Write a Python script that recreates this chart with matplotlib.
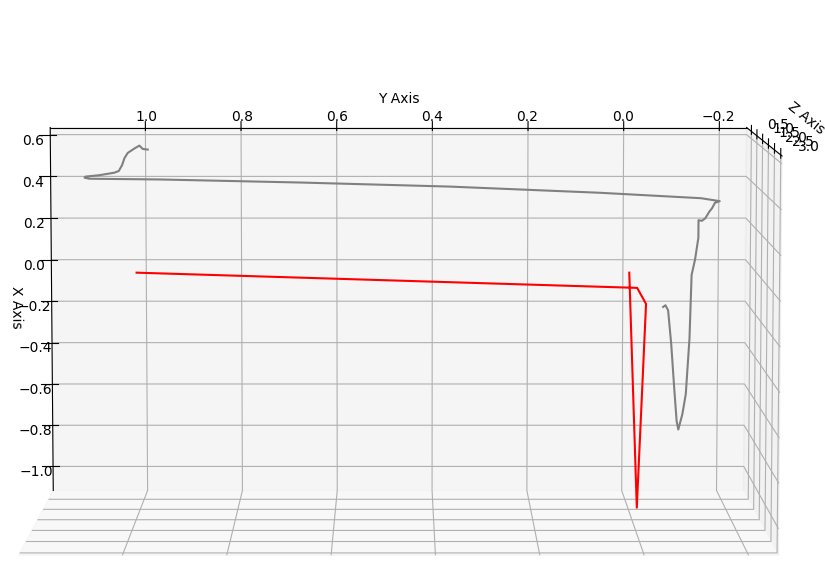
import matplotlib
matplotlib.use("Agg")
import matplotlib.pyplot as plt
import numpy as np

# Gray trajectory (x, y, z)
gray_x = [0.535, 0.538, 0.554, 0.540, 0.519, 0.494, 0.462, 0.433, 0.425, 0.413,
          0.406, 0.401, 0.396, 0.3925, 0.378, 0.3585, 0.329, 0.303, 0.289, 0.281,
          0.255, 0.239, 0.2066, 0.195, 0.198, 0.1143, 0.009, -0.0639, -0.3697,
          -0.6367, -0.7338, -0.808, -0.7678, -0.6061, -0.394, -0.2338, -0.2095,
          -0.2178]
gray_y = [0.993, 1.0034, 1.0103, 1.0208, 1.0347, 1.0416, 1.0464, 1.0535, 1.0625,
          1.0937, 1.1229, 1.125, 1.1146, 0.9686, 0.6767, 0.364, 0.0512, -0.160,
          -0.199, -0.189, -0.183, -0.1775, -0.169, -0.162, -0.155, -0.155,
          -0.1483, -0.1414, -0.1379, -0.131, -0.1241, -0.1158, -0.1122, -0.1066,
          -0.0997, -0.0928, -0.0872, -0.0824]
gray_z = [0.2] * len(gray_x)

# Red path (x, y, z)
red_x = [0.027, -0.043, -0.117, -1.037, 0.027]
red_y = [0.996, -0.008, -0.026, -0.006, 0.008]
red_z = [1.5, 1.5, 1.5, 1.75, 1.5]

fig = plt.figure(figsize=(8.25, 5.61), dpi=100)
ax = fig.add_axes([-0.0306, -0.3471, 1.0, 1.4706], projection='3d')

ax.plot(gray_x, gray_y, gray_z, color='gray')
ax.plot(red_x, red_y, red_z, color='red')

ax.set_xlim(-1.117, 0.634)
ax.set_ylim(-0.257, 1.199)
ax.set_zlim(0.05, 3.1)
ax.set_xlabel('X Axis', labelpad=-4.5)
ax.set_ylabel('Y Axis', labelpad=1.5)
ax.set_zlabel('Z Axis', labelpad=-3)
ax.tick_params(axis='x', pad=0)
ax.tick_params(axis='y', pad=6)
ax.set_box_aspect((1, 1.90, 1.13), zoom=1.092)
ax.view_init(elev=96.2, azim=180)

fig.savefig('out.png', dpi=100)
